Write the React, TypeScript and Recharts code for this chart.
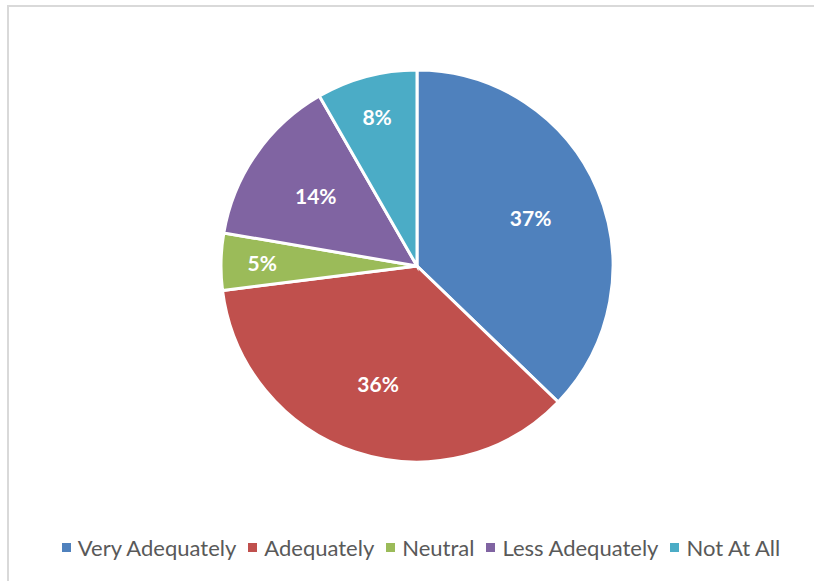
import React from "react";
import { PieChart, Pie, Cell, Legend } from "recharts";

const categories = ["Very Adequately", "Adequately", "Neutral", "Less Adequately", "Not At All"];
const shares = [37.2, 35.8, 4.7, 14.0, 8.3];
const colors = ["#4F81BD", "#C0504D", "#9BBB59", "#8064A2", "#4BACC6"];

const data = categories.map((name, i) => ({ name, value: shares[i] }));

const RADIAN = Math.PI / 180;

const renderLabel = (props: any) => {
  const { cx, cy, midAngle, outerRadius, percent } = props;
  const r = outerRadius * (percent < 0.1 ? 0.79 : 0.63);
  const x = cx + r * Math.cos(-midAngle * RADIAN);
  const y = cy + r * Math.sin(-midAngle * RADIAN);
  return (
    <text
      x={x}
      y={y}
      fill="#ffffff"
      textAnchor="middle"
      dominantBaseline="central"
      fontFamily="Lato, 'Open Sans', sans-serif"
      fontWeight={700}
      fontSize={21}
    >
      {`${Math.round(percent * 100)}%`}
    </text>
  );
};

const renderLegend = (props: any) => {
  const payload = [...(props.payload || [])].sort(
    (a: any, b: any) => categories.indexOf(a.value) - categories.indexOf(b.value)
  );
  return (
    <div
      style={{
        display: "flex",
        justifyContent: "center",
        alignItems: "center",
        fontFamily: "Lato, 'Open Sans', sans-serif",
        fontSize: 22,
        color: "#595959",
        whiteSpace: "nowrap",
      }}
    >
      {payload.map((entry: any, i: number) => (
        <span
          key={entry.value}
          style={{ display: "inline-flex", alignItems: "center", marginRight: i === payload.length - 1 ? 0 : 12 }}
        >
          <span
            style={{ display: "inline-block", width: 9, height: 9, background: entry.color, marginRight: 7 }}
          />
          {entry.value}
        </span>
      ))}
    </div>
  );
};

export default function App() {
  return (
    <div style={{ position: "absolute", left: 0, top: 0, width: 814, height: 581, overflow: "hidden", background: "#fff" }}>
      <div
        style={{
          position: "absolute",
          left: 7,
          top: 5,
          width: 840,
          height: 620,
          border: "2px solid #d9d9d9",
          boxSizing: "border-box",
        }}
      />
      <div style={{ position: "absolute", left: 0, top: 0 }}>
        <PieChart width={814} height={581} margin={{ top: 0, right: 0, bottom: 0, left: 0 }}>
          <Pie
            data={data}
            dataKey="value"
            nameKey="name"
            cx={417}
            cy={266}
            outerRadius={196}
            startAngle={90}
            endAngle={-270}
            stroke="#ffffff"
            strokeWidth={3}
            labelLine={false}
            label={renderLabel}
            isAnimationActive={false}
          >
            {data.map((d, i) => (
              <Cell key={d.name} fill={colors[i]} />
            ))}
          </Pie>
          <Legend
            content={renderLegend}
            wrapperStyle={{ position: "absolute", top: 534, left: 14, width: 814 }}
          />
        </PieChart>
      </div>
    </div>
  );
}
